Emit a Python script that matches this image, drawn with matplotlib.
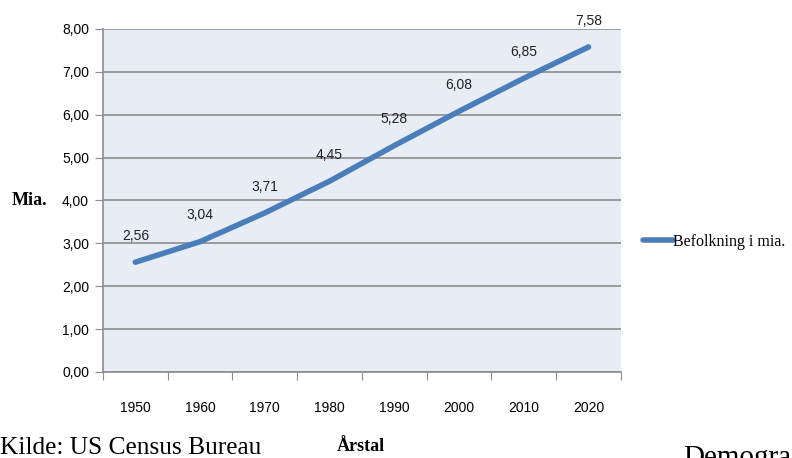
import matplotlib
matplotlib.use("Agg")
import numpy as np
from matplotlib import pyplot as plt

# data
years = ["1950", "1960", "1970", "1980", "1990", "2000", "2010", "2020"]
pop = [2.56, 3.04, 3.71, 4.45, 5.28, 6.08, 6.85, 7.58]
yticks = [0, 1, 2, 3, 4, 5, 6, 7, 8]

narrow = ["Liberation Sans", "DejaVu Sans"]
serif = ["Liberation Serif", "DejaVu Serif"]

fig = plt.figure(figsize=(7.92, 4.58), dpi=100)
ax = fig.add_axes([0.130, 0.1878, 0.654, 0.749])
ax.set_facecolor("#E8ECF5")

x = np.arange(len(years))
line, = ax.plot(x, pop, color="#4A7EBB", lw=4, solid_capstyle="round",
                solid_joinstyle="round", zorder=3)

for xi, v in zip(x, pop):
    ax.annotate(f"{v:.2f}".replace(".", ","), (xi, v), xytext=(0, 19),
                textcoords="offset points", ha="center", va="center",
                fontsize=10, family=narrow, color="#222222")

ax.set_xlim(-0.5, len(years) - 0.5)
ax.set_ylim(0, 8)
ax.set_yticks(yticks)
ax.set_yticklabels([f"{t:.2f}".replace(".", ",") for t in yticks],
                   family=narrow, fontsize=10)
ax.yaxis.grid(True, color="#8C8C8C", lw=1.2)
ax.set_axisbelow(True)

# category boundaries for tick marks, labels centered in categories
ax.set_xticks(np.arange(len(years) + 1) - 0.5)
ax.set_xticklabels([])
ax.set_xticks(x, minor=True)
ax.set_xticklabels(years, minor=True, family=narrow, fontsize=10)
ax.tick_params(axis="x", which="minor", length=0, pad=21)
ax.tick_params(axis="x", which="major", length=6, color="#8C8C8C")
ax.tick_params(axis="y", length=6, color="#8C8C8C", pad=4)

for s in ["top", "right"]:
    ax.spines[s].set_visible(False)
ax.spines["left"].set_color("#8C8C8C")
ax.spines["bottom"].set_color("#8C8C8C")
ax.spines["left"].set_linewidth(1.2)
ax.spines["bottom"].set_linewidth(1.2)

fig.text(0.015, 0.563, "Mia.", family=serif, fontsize=13, fontweight="bold",
         va="center", ha="left")
fig.text(0.455, 0.025, "Årstal", family=serif, fontsize=13, fontweight="bold",
         va="center", ha="center")
fig.text(0.0, 0.022, "Kilde: US Census Bureau", family=serif, fontsize=18.3,
         va="center", ha="left")
fig.text(0.862, 0.0, "Demografi", family=serif, fontsize=21,
         va="center", ha="left")

ax.legend([line], ["Befolkning i mia."], loc="center left",
          bbox_to_anchor=(1.042, 0.38), frameon=False, handlelength=1.9,
          handletextpad=0.02, borderpad=0, borderaxespad=0,
          prop={"family": serif, "size": 11.5})

fig.savefig("out.png", dpi=100)
